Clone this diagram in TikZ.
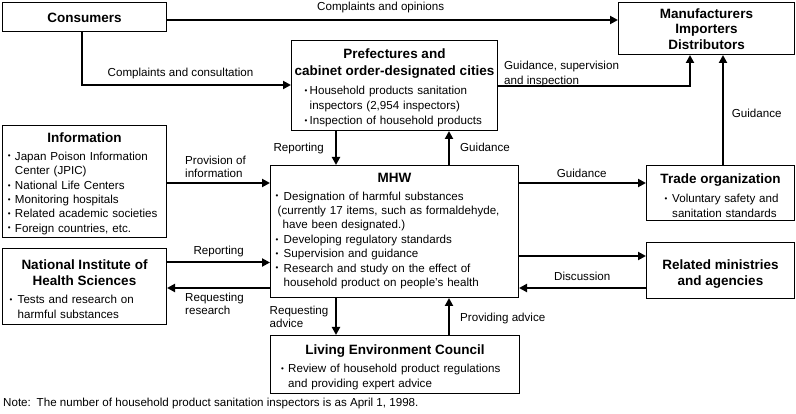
\documentclass[tikz,border=0pt]{standalone}
\usepackage{fontspec}
\setmainfont{Liberation Sans}
\usetikzlibrary{arrows.meta,calc}
\newcommand{\bodyfont}{\fontsize{11.6}{14.2}\selectfont}
\newcommand{\lblfont}{\fontsize{11.6}{12.4}\selectfont}
\newcommand{\ttlfont}{\fontsize{13.5}{16.5}\selectfont\bfseries}
\newcommand{\bul}{\raisebox{1.2pt}{\fontsize{8}{8}\selectfont\textbullet}}
% one bullet item, wrapped lines kept under the text
\newcommand{\itm}[2][8pt]{\par\noindent\makebox[#1][l]{\bul}\parbox[t]{240pt}{\strut#2\strut}}
\tikzset{
  box/.style={draw,line width=1pt,anchor=north west,inner sep=0pt},
  ttl/.style={font=\ttlfont,align=center,anchor=north,inner sep=0pt,execute at begin node=\strut},
  lst/.style={font=\bodyfont,text width=250pt,align=left,anchor=north west,inner sep=0pt},
  lbl/.style={font=\lblfont,anchor=base west,inner sep=0pt},
  lbltwo/.style={font=\lblfont,align=left,anchor=north west,inner sep=0pt,execute at begin node=\strut},
  flow/.style={-{Triangle[length=8pt,width=8pt]},line width=2pt}
}

\begin{document}
\begin{tikzpicture}[x=1pt,y=-1pt]
\useasboundingbox (0,0) rectangle (796,414);
% boxes
\node[box,minimum width=164pt,minimum height=29pt] (cons) at (2,2) {};
\node[box,minimum width=176pt,minimum height=52pt] (manu) at (618,2) {};
\node[box,minimum width=206pt,minimum height=90pt] (pref) at (291,40) {};
\node[box,minimum width=164pt,minimum height=112pt] (info) at (2,125) {};
\node[box,minimum width=248pt,minimum height=132pt] (mhw) at (270,165) {};
\node[box,minimum width=148pt,minimum height=55pt] (trade) at (646,165) {};
\node[box,minimum width=148pt,minimum height=56pt] (rel) at (646,242) {};
\node[box,minimum width=164pt,minimum height=76pt] (nihs) at (2,248) {};
\node[box,minimum width=249pt,minimum height=58pt] (council) at (270,335) {};

% box titles
\node[ttl] (consT) at ($(cons.north)+(0,8.5)$) {Consumers};
\node[ttl] (manuT) at ($(manu.north)+(0,6.5)$) {Manufacturers\\[-1pt]Importers\\[-1pt]Distributors};
\node[ttl] (prefT) at ($(pref.north)+(0,8.5)$) {Prefectures and\\[1pt]cabinet order-designated cities};
\node[ttl] (infoT) at ($(info.north)+(0,5.8)$) {Information};
\node[ttl] (mhwT) at ($(mhw.north)+(0,6)$) {MHW};
\node[ttl] (tradeT) at ($(trade.north)+(0,7)$) {Trade organization};
\node[ttl] (relT) at ($(rel.north)+(0,17.5)$) {Related ministries\\and agencies};
\node[ttl] (nihsT) at ($(nihs.north)+(0,11.5)$) {National Institute of\\[-0.5pt]Health Sciences};
\node[ttl] (councilT) at ($(council.north)+(0,7.5)$) {Living Environment Council};

% box lists
\node[lst] (prefL) at ($(pref.north west)+(13.5,40.6)$)
  {\itm[5pt]{Household products sanitation\newline inspectors (2,954 inspectors)}\itm[5pt]{Inspection of household products}};
\node[lst] (infoL) at ($(info.north west)+(5.8,20.8)$)
  {\itm[7pt]{Japan Poison Information\newline Center (JPIC)}\itm[7pt]{National Life Centers}\itm[7pt]{Monitoring hospitals}
   \itm[7pt]{Related academic societies}\itm[7pt]{Foreign countries, etc.}};
\node[lst] (mhwL) at ($(mhw.north west)+(5.5,20.8)$)
  {\itm{Designation of harmful substances\newline\hspace*{-6pt}(currently 17 items, such as formaldehyde,\newline\hspace*{-1pt}have been designated.)}
   \itm{Developing regulatory standards}\itm{Supervision and guidance}
   \itm{Research and study on the effect of\newline household product on people's health}};
\node[lst] (tradeL) at ($(trade.north west)+(18.5,23.5)$)
  {\itm[7.5pt]{Voluntary safety and\newline sanitation standards}};
\node[lst] (nihsL) at ($(nihs.north west)+(7.5,41.5)$)
  {\itm{Tests and research on\newline harmful substances}};
\node[lst] (councilL) at ($(council.north west)+(11,23.5)$)
  {\itm[7pt]{Review of household product regulations\newline and providing expert advice}};

% connectors
\draw[flow] (cons.east |- 0,20) -- (manu.west |- 0,20);
\draw[flow] (82,0 |- cons.south) |- (pref.west |- 0,85);
\draw[flow] (pref.east |- 0,86) -| (690,0 |- manu.south);
\draw[flow] (723,0 |- trade.north) -- (723,0 |- manu.south);
\draw[flow] (336,0 |- pref.south) -- (336,0 |- mhw.north);
\draw[flow] (449,0 |- mhw.north) -- (449,0 |- pref.south);
\draw[flow] (info.east |- 0,183) -- (mhw.west |- 0,183);
\draw[flow] (mhw.east |- 0,183) -- (trade.west |- 0,183);
\draw[flow] (nihs.east |- 0,262.5) -- (mhw.west |- 0,262.5);
\draw[flow] (mhw.west |- 0,288) -- (nihs.east |- 0,288);
\draw[flow] (mhw.east |- 0,256) -- (rel.west |- 0,256);
\draw[flow] (rel.west |- 0,288) -- (mhw.east |- 0,288);
\draw[flow] (336,0 |- mhw.south) -- (336,0 |- council.north);
\draw[flow] (449,0 |- council.north) -- (449,0 |- mhw.south);

% connector labels
\node[lbl] (opinL) at (317,10.5) {Complaints and opinions};
\node[lbl] (consultL) at (107.5,76.7) {Complaints and consultation};
\node[lbltwo] (superL) at (504,60.6) {Guidance, supervision\\[3pt]and inspection};
\node[lbl] (guidManuL) at (731.7,117.3) {Guidance};
\node[lbl] (repPrefL) at (273.3,151.7) {Reporting};
\node[lbl] (guidPrefL) at (460,151.7) {Guidance};
\node[lbltwo] (provL) at (185,156.3) {Provision of\\information};
\node[lbl] (guidTradeL) at (556.7,177.3) {Guidance};
\node[lbl] (repNihsL) at (193.3,255) {Reporting};
\node[lbltwo] (reqResL) at (185,293) {Requesting\\research};
\node[lbltwo] (reqAdvL) at (269.5,306.3) {Requesting\\advice};
\node[lbl] (discL) at (554,280.7) {Discussion};
\node[lbl] (provAdvL) at (460,321.7) {Providing advice};

% note
\node[lbl] (note) at (3,406.7) {Note:\enspace The number of household product sanitation inspectors is as April 1, 1998.};
\end{tikzpicture}
\end{document}
